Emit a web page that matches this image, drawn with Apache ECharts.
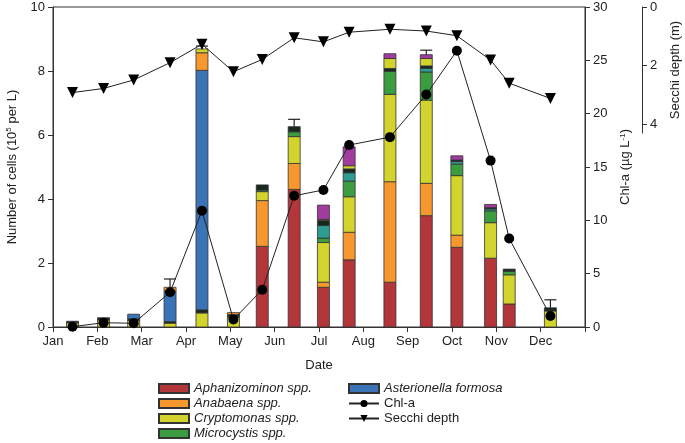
<!DOCTYPE html>
<html>
<head>
<meta charset="utf-8">
<script src="https://cdn.jsdelivr.net/npm/echarts@6/dist/echarts.min.js"></script>
<style>
  html, body { margin: 0; padding: 0; background: #fff; }
  #main { width: 685px; height: 443px; }
</style>
</head>
<body>
<div id="main"></div>
<script>
// month tick labels
var months = ["Jan", "Feb", "Mar", "Apr", "May", "Jun", "Jul", "Aug", "Sep", "Oct", "Nov", "Dec"];

// sampling dates (in months from 1 Jan)
var sampleX = [0.44, 1.14, 1.82, 2.64, 3.36, 4.07, 4.72, 5.44, 6.10, 6.68, 7.60, 8.42, 9.11, 9.87, 10.29, 11.22];

// cell counts (10^5 per L), stacked bottom -> top
var aphanizominon = [0, 0, 0, 0, 0, 0, 2.52, 4.30, 1.24, 2.10, 1.40, 3.48, 2.49, 2.15, 0.72, 0];
var anabaena      = [0, 0, 0, 0, 0, 0, 1.43, 0.81, 0.16, 0.86, 3.14, 1.01, 0.38, 0, 0, 0];
var cryptomonas   = [0.13, 0.22, 0.20, 0.12, 0.44, 0.30, 0.28, 0.84, 1.24, 1.11, 2.73, 2.60, 1.86, 1.11, 0.91, 0.50];
var microcystis   = [0, 0, 0, 0, 0, 0.04, 0.05, 0.15, 0.14, 0.49, 0.72, 0.88, 0.36, 0.37, 0.11, 0];
var otherTeal     = [0, 0, 0, 0, 0, 0, 0, 0, 0.39, 0.26, 0, 0.11, 0.08, 0.06, 0, 0];
var otherDark     = [0.05, 0.07, 0.06, 0.05, 0.10, 0.05, 0.16, 0.16, 0.16, 0.12, 0.09, 0.08, 0.05, 0.04, 0.07, 0.10];
var asterionella  = [0, 0, 0.14, 0.95, 7.48, 0, 0, 0, 0, 0, 0, 0, 0, 0, 0, 0];
var anabaenaTop   = [0, 0, 0, 0.12, 0.55, 0.06, 0, 0, 0, 0, 0, 0, 0, 0, 0, 0];
var cryptoTop     = [0, 0, 0, 0, 0.12, 0, 0, 0, 0.03, 0.10, 0.31, 0.23, 0, 0, 0, 0];
var otherPurple   = [0, 0, 0, 0, 0, 0, 0, 0, 0.45, 0.59, 0.15, 0.12, 0.13, 0.10, 0, 0];

// upper error of total cells
var errTop = [null, null, null, 1.50, 8.78, null, null, 6.49, null, null, null, 8.65, null, null, null, 0.85];

// Chl-a (ug/L) and Secchi depth (m)
var chla   = [0.03, 0.40, 0.35, 3.25, 10.9, 0.70, 3.50, 12.3, 12.85, 17.06, 17.8, 21.8, 25.9, 15.6, 8.3, 1.03];
var secchi = [2.92, 2.78, 2.49, 1.90, 1.27, 2.21, 1.79, 1.05, 1.19, 0.86, 0.76, 0.82, 0.98, 1.81, 2.60, 3.12];

var FONT = "'Liberation Sans', Arial, Helvetica, sans-serif";
var TXT = "#222";

var layers = [
  { name: "Aphanizominon spp.", data: aphanizominon, color: "#b3363b" },
  { name: "Anabaena spp.", data: anabaena, color: "#f7982f" },
  { name: "Cryptomonas spp.", data: cryptomonas, color: "#d3d32e" },
  { name: "Microcystis spp.", data: microcystis, color: "#3b9c40" },
  { name: "other teal", data: otherTeal, color: "#2f9c93" },
  { name: "other dark", data: otherDark, color: "#17291f" },
  { name: "Asterionella formosa", data: asterionella, color: "#3a74b6" },
  { name: "Anabaena spp.", data: anabaenaTop, color: "#f7982f" },
  { name: "Cryptomonas spp.", data: cryptoTop, color: "#d3d32e" },
  { name: "other purple", data: otherPurple, color: "#a23b9e" }
];

function barItem(params, api) {
  var lo = api.value(1), hi = api.value(2);
  if (hi - lo <= 0) return null;
  var p0 = api.coord([api.value(0), lo]);
  var p1 = api.coord([api.value(0), hi]);
  return {
    type: "rect",
    shape: { x: p0[0] - 6, y: p1[1], width: 12, height: p0[1] - p1[1] },
    style: api.style({ stroke: "#333", lineWidth: 0.8 })
  };
}

function errItem(params, api) {
  var x = api.value(0);
  var a = api.coord([x, api.value(1)]);
  var b = api.coord([x, api.value(2)]);
  return {
    type: "group",
    children: [
      { type: "line", shape: { x1: a[0], y1: a[1], x2: b[0], y2: b[1] }, style: { stroke: "#222", lineWidth: 1.2 } },
      { type: "line", shape: { x1: b[0] - 6, y1: b[1], x2: b[0] + 6, y2: b[1] }, style: { stroke: "#222", lineWidth: 1.2 } }
    ]
  };
}

var base = sampleX.map(function () { return 0; });
var series = layers.map(function (l) {
  var rows = sampleX.map(function (x, i) {
    var lo = base[i];
    base[i] = lo + l.data[i];
    return [x, lo, base[i]];
  });
  return {
    name: l.name,
    type: "custom",
    xAxisIndex: 0,
    yAxisIndex: 0,
    renderItem: barItem,
    itemStyle: { color: l.color, borderColor: "#333", borderWidth: 0.8 },
    encode: { x: 0, y: [1, 2] },
    data: rows,
    z: 2
  };
});

var errRows = [];
sampleX.forEach(function (x, i) {
  if (errTop[i] != null) errRows.push([x, base[i], errTop[i]]);
});
series.push({
  name: "error",
  type: "custom",
  xAxisIndex: 0,
  yAxisIndex: 0,
  renderItem: errItem,
  encode: { x: 0, y: [1, 2] },
  data: errRows,
  z: 3
});

series.push({
  name: "Chl-a",
  type: "line",
  xAxisIndex: 0,
  yAxisIndex: 1,
  data: sampleX.map(function (x, i) { return [x, chla[i]]; }),
  symbol: "circle",
  symbolSize: 10,
  itemStyle: { color: "#000" },
  lineStyle: { color: "#222", width: 1 },
  z: 5
});

series.push({
  name: "Secchi depth",
  type: "line",
  xAxisIndex: 1,
  yAxisIndex: 2,
  data: sampleX.map(function (x, i) { return [x, secchi[i]]; }),
  symbol: "triangle",
  symbolRotate: 180,
  symbolSize: 11,
  itemStyle: { color: "#000" },
  lineStyle: { color: "#222", width: 1 },
  z: 5
});

var axisLine = { show: true, onZero: false, lineStyle: { color: "#333" } };
var supStyle = { fontSize: 8, verticalAlign: "top", padding: [0, 0, 6, 0], color: TXT };

var chart = echarts.init(document.getElementById("main"));
chart.setOption({
  animation: false,
  backgroundColor: "#fff",
  textStyle: { fontFamily: FONT, color: TXT },
  grid: [
    { left: 53, right: 100, top: 7, bottom: 116, show: true, borderColor: "#333", borderWidth: 1, outerBoundsMode: "none", containLabel: false },
    { left: 53, right: 100, top: 7, height: 126, outerBoundsMode: "none", containLabel: false }
  ],
  legend: [
    {
      orient: "vertical", left: 158, top: 381, padding: 0, itemWidth: 30, itemHeight: 9, itemGap: 0,
      textStyle: { fontSize: 13, lineHeight: 15, color: TXT, fontFamily: FONT, fontStyle: "italic" },
      data: [
        { name: "Aphanizominon spp.", icon: "rect" },
        { name: "Anabaena spp.", icon: "rect" },
        { name: "Cryptomonas spp.", icon: "rect" },
        { name: "Microcystis spp.", icon: "rect" }
      ]
    },
    {
      orient: "vertical", left: 348, top: 381, padding: 0, itemWidth: 30, itemHeight: 9, itemGap: 0,
      textStyle: { fontSize: 13, lineHeight: 15, color: TXT, fontFamily: FONT },
      data: [
        { name: "Asterionella formosa", icon: "rect", textStyle: { fontStyle: "italic" } },
        { name: "Chl-a" },
        { name: "Secchi depth" }
      ]
    }
  ],
  xAxis: [
    {
      gridIndex: 0, type: "value", min: 0, max: 12, interval: 1,
      name: "Date", nameLocation: "middle", nameGap: 32,
      nameTextStyle: { fontSize: 13, color: TXT },
      axisLine: axisLine,
      axisTick: { length: 5, lineStyle: { color: "#333" } },
      axisLabel: { fontSize: 13, color: TXT, margin: 8, formatter: function (v) { return months[v] || ""; } },
      splitLine: { show: false }
    },
    {
      gridIndex: 1, type: "value", min: 0, max: 12, show: false
    }
  ],
  yAxis: [
    {
      gridIndex: 0, type: "value", position: "left", min: 0, max: 10, interval: 2,
      name: "Number of cells (10{sup|5} per L)", nameLocation: "middle", nameGap: 34, nameRotate: 90,
      nameTextStyle: { fontSize: 13, color: TXT, rich: { sup: supStyle } },
      axisLine: axisLine,
      axisTick: { show: true, length: 5, lineStyle: { color: "#333" } },
      axisLabel: { fontSize: 13, color: TXT, margin: 8 },
      splitLine: { show: false }
    },
    {
      gridIndex: 0, type: "value", position: "right", min: 0, max: 30, interval: 5,
      name: "Chl-a (\u00b5g L{sup|-1})", nameLocation: "middle", nameGap: 28, nameRotate: 90,
      nameTextStyle: { fontSize: 13, color: TXT, rich: { sup: supStyle } },
      axisLine: axisLine,
      axisTick: { show: true, length: 5, lineStyle: { color: "#333" } },
      axisLabel: { fontSize: 13, color: TXT, margin: 8 },
      splitLine: { show: false }
    },
    {
      gridIndex: 1, type: "value", position: "right", offset: 57, inverse: true, min: 0, max: 4.3,
      name: "Secchi depth (m)", nameLocation: "middle", nameGap: 27, nameRotate: 90,
      nameTextStyle: { fontSize: 13, color: TXT },
      axisLine: axisLine,
      axisTick: { show: true, length: 5, lineStyle: { color: "#333" }, customValues: [0, 2, 4] },
      axisLabel: { fontSize: 13, color: TXT, margin: 8, customValues: [0, 2, 4] },
      splitLine: { show: false }
    }
  ],
  series: series
});
</script>
</body>
</html>
